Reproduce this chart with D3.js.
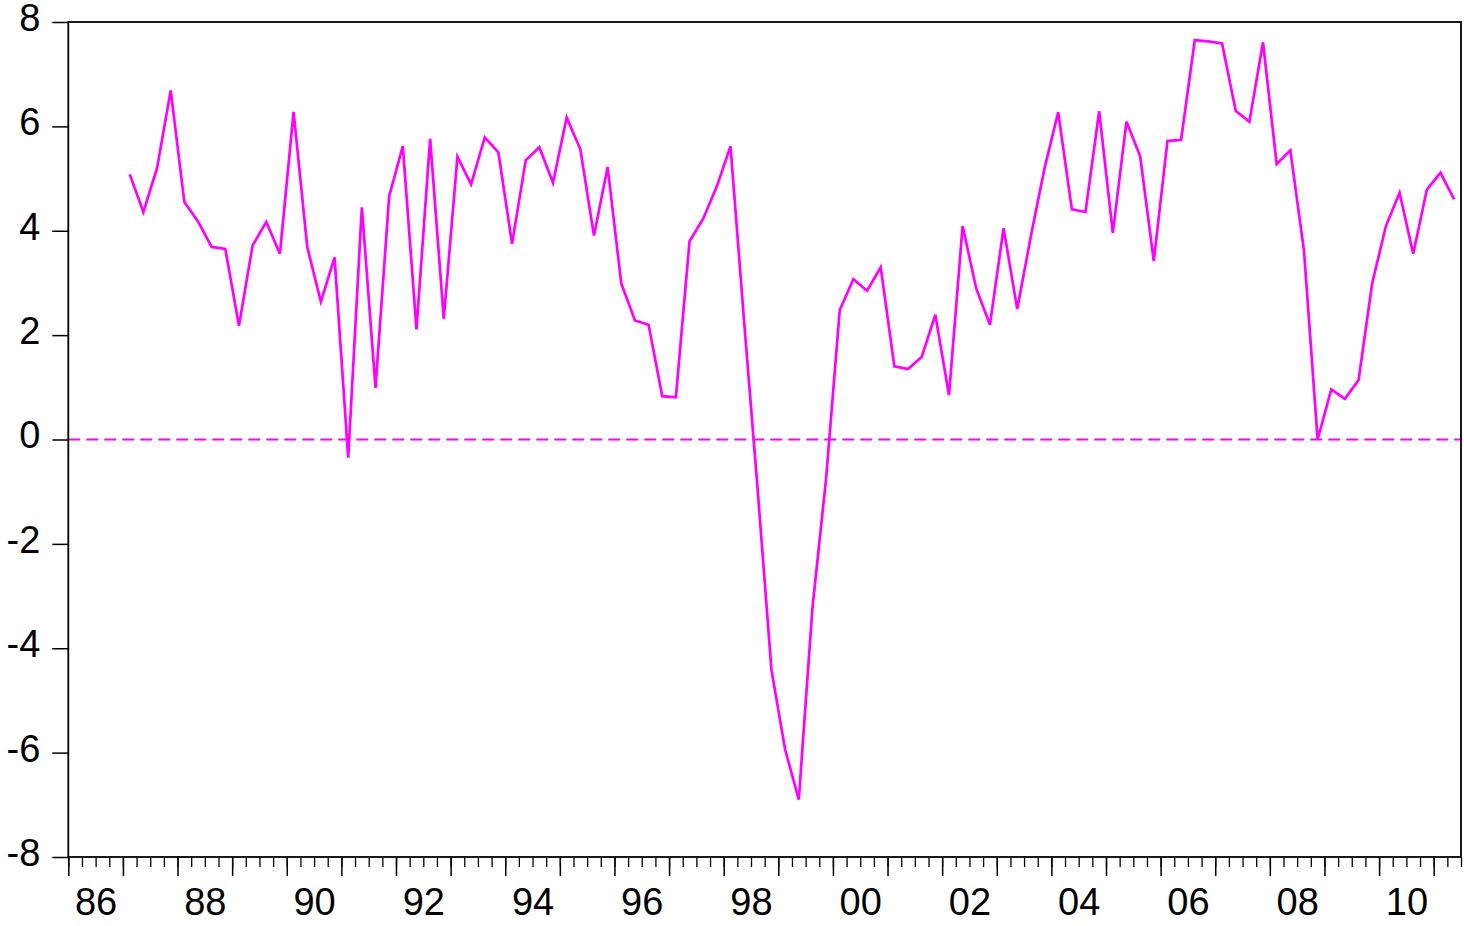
<!DOCTYPE html>
<html>
<head>
<meta charset="utf-8">
<script src="https://cdn.jsdelivr.net/npm/d3@7"></script>
<style>
  body { margin: 0; background: #fff; }
  svg { display: block; }
</style>
</head>
<body>
<svg id="chart"></svg>
<script>
// quarterly series, 1987Q1 .. 2011Q2
var firstYear = 1987;
var values = [
  5.08, 4.36, 5.20, 6.69,
  4.55, 4.18, 3.69, 3.65,
  2.18, 3.72, 4.17, 3.56,
  6.28, 3.69, 2.64, 3.49,
  -0.35, 4.45, 0.99, 4.66,
  5.62, 2.11, 5.76, 2.31,
  5.42, 4.89, 5.79, 5.50,
  3.75, 5.35, 5.60, 4.92,
  6.17, 5.56, 3.91, 5.22,
  2.99, 2.28, 2.20, 0.83,
  0.81, 3.80, 4.23, 4.85,
  5.62, 2.25, -1.00, -4.42,
  -5.94, -6.90, -3.23, -0.75,
  2.48, 3.07, 2.85, 3.30,
  1.40, 1.35, 1.58, 2.39,
  0.85, 4.09, 2.89, 2.20,
  4.05, 2.50, 3.90, 5.20,
  6.27, 4.41, 4.36, 6.29,
  3.96, 6.09, 5.43, 3.42,
  5.72, 5.74, 7.65, 7.63,
  7.59, 6.30, 6.09, 7.61,
  5.28, 5.54, 3.62, 0.00,
  0.96, 0.78, 1.14, 3.00,
  4.09, 4.73, 3.56, 4.79,
  5.11, 4.60
];
var yTicks = [-8, -6, -4, -2, 0, 2, 4, 6, 8];
var xLabelYears = [1986, 1988, 1990, 1992, 1994, 1996, 1998, 2000, 2002, 2004, 2006, 2008, 2010];
var axisStart = 1986;
var axisEnd = 2011.5;

var width = 1464;
var height = 926;
var margin = {top: 22, right: 3, bottom: 69, left: 68.3};
var font = "'Liberation Sans', Arial, Helvetica, sans-serif";

var svg = d3.select("#chart")
            .attr("width", width)
            .attr("height", height);

var x = d3.scaleLinear()
          .domain([axisStart, axisEnd])
          .range([margin.left, width - margin.right]);

var y = d3.scaleLinear()
          .domain([-8, 8])
          .range([height - margin.bottom, margin.top]);

var data = values.map(function(v, i) {
  return {t: firstYear + i / 4 + 0.125, v: v};
});

// quarter and year tick marks
var quarterTicks = d3.range(0, (axisEnd - axisStart) * 4 + 1).map(function(i) { return axisStart + i / 4; });
var yearTicks = quarterTicks.filter(function(t) { return t % 1 === 0; });

svg.append("g")
   .attr("transform", "translate(0," + y(-8) + ")")
   .call(d3.axisBottom(x).tickValues(quarterTicks).tickSize(10).tickFormat(""))
   .call(function(g) { g.select(".domain").remove(); })
   .selectAll("line").attr("stroke-width", 1.3);

svg.append("g")
   .attr("transform", "translate(0," + y(-8) + ")")
   .call(d3.axisBottom(x).tickValues(yearTicks).tickSize(19).tickFormat(""))
   .call(function(g) { g.select(".domain").remove(); })
   .selectAll("line").attr("stroke-width", 1.5);

// year labels sit in the middle of the year
var xLabels = svg.append("g")
   .attr("transform", "translate(0," + y(-8) + ")")
   .call(d3.axisBottom(x)
          .tickValues(xLabelYears.map(function(yr) { return yr + 0.5; }))
          .tickSize(0)
          .tickPadding(31)
          .tickFormat(function(d) { return String(Math.floor(d) % 100).padStart(2, "0"); }));
xLabels.select(".domain").remove();
xLabels.selectAll("text")
       .attr("font-family", font)
       .attr("font-size", "38px")
       .attr("fill", "#000");

var yAxis = svg.append("g")
   .attr("transform", "translate(" + margin.left + ",0)")
   .call(d3.axisLeft(y)
          .tickValues(yTicks)
          .tickSize(16)
          .tickPadding(12)
          .tickFormat(function(d) { return String(d); }));
yAxis.select(".domain").remove();
yAxis.selectAll("line").attr("stroke-width", 1.5);
yAxis.selectAll("text")
     .attr("dy", "0.22em")
     .attr("font-family", font)
     .attr("font-size", "38px")
     .attr("fill", "#000");

// zero reference line
svg.append("line")
   .attr("x1", x(axisStart))
   .attr("x2", x(axisEnd))
   .attr("y1", y(0))
   .attr("y2", y(0))
   .attr("stroke", "#ff00ff")
   .attr("stroke-width", 1.8)
   .attr("stroke-dasharray", "12,6");

var line = d3.line()
             .x(function(d) { return x(d.t); })
             .y(function(d) { return y(d.v); });

svg.append("path")
   .datum(data)
   .attr("d", line)
   .attr("fill", "none")
   .attr("stroke", "#ff00ff")
   .attr("stroke-width", 2.7);

// frame
svg.append("rect")
   .attr("x", x(axisStart))
   .attr("y", y(8))
   .attr("width", x(axisEnd) - x(axisStart))
   .attr("height", y(-8) - y(8))
   .attr("fill", "none")
   .attr("stroke", "#000")
   .attr("stroke-width", 1.8);
</script>
</body>
</html>
